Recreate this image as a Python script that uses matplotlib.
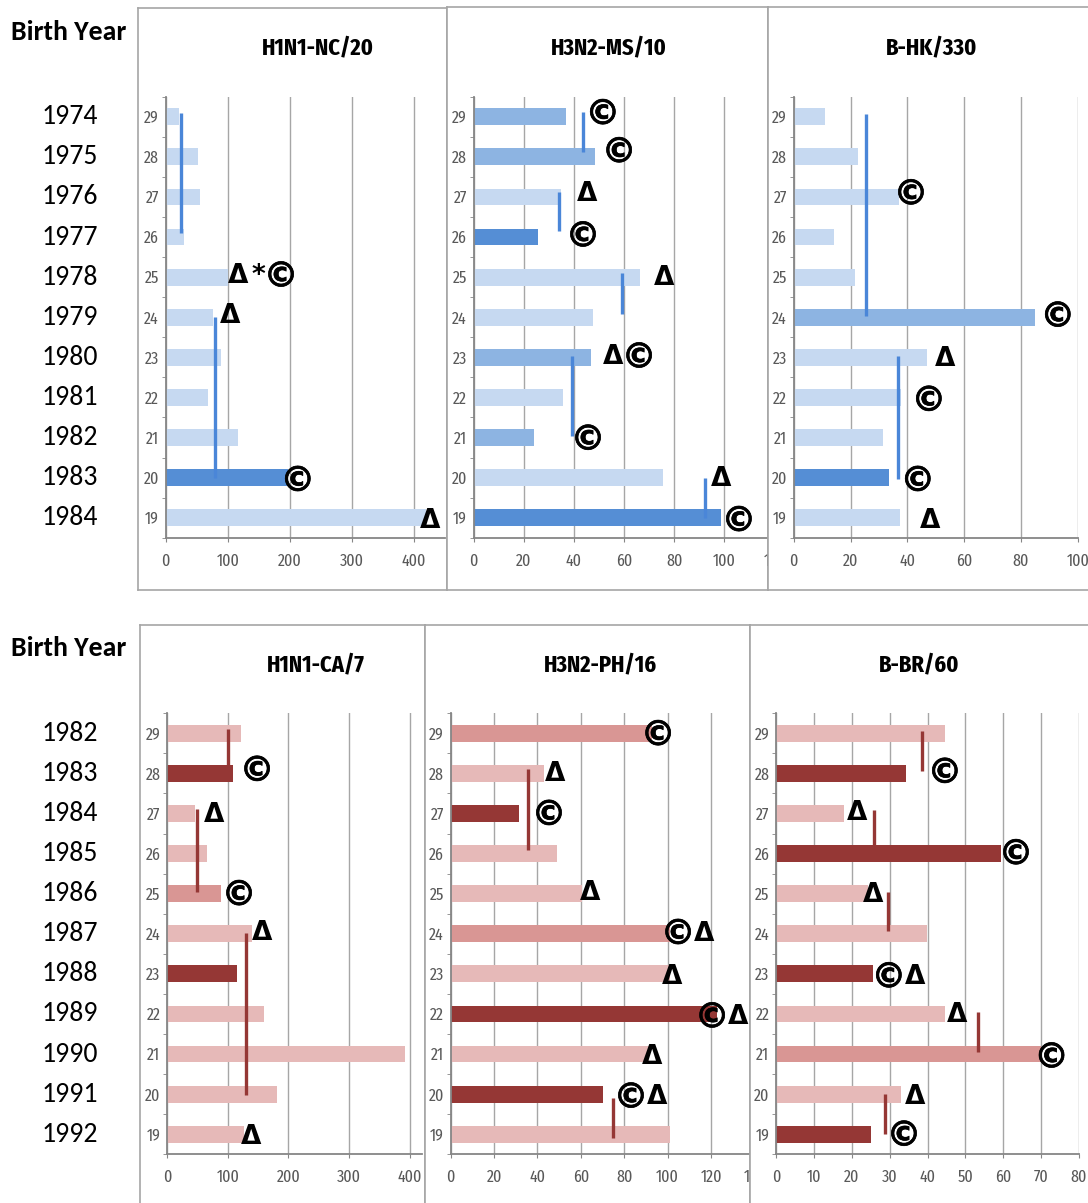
import matplotlib
matplotlib.use('Agg')
import matplotlib.pyplot as plt
import matplotlib.transforms as mtransforms
import matplotlib.patheffects as pe

W, H = 1088, 1203

# age on the y axis (top to bottom) and the matching birth years
ages = [29, 28, 27, 26, 25, 24, 23, 22, 21, 20, 19]
years_top = [1974, 1975, 1976, 1977, 1978, 1979, 1980, 1981, 1982, 1983, 1984]
years_bottom = [1982, 1983, 1984, 1985, 1986, 1987, 1988, 1989, 1990, 1991, 1992]

titles = ['H1N1-NC/20', 'H3N2-MS/10', 'B-HK/330', 'H1N1-CA/7', 'H3N2-PH/16', 'B-BR/60']

# bar values, ages 29 -> 19
nc20_vals = [21, 52, 56, 29, 100, 76, 89, 68, 117, 197, 420]
ms10_vals = [36.7, 48.3, 34.7, 25.8, 66.5, 47.7, 46.9, 35.6, 24.2, 75.5, 98.5]
hk330_vals = [11.0, 22.8, 37.0, 14.3, 21.5, 84.9, 47.1, 37.9, 31.3, 33.7, 37.4]
ca7_vals = [121, 108, 46, 65, 88.6, 140, 115.6, 159, 393, 181.6, 126.6]
ph16_vals = [93, 43.2, 31.6, 48.9, 60.4, 101, 101, 122.6, 91.4, 70.4, 101.1]
br60_vals = [44.5, 34.2, 17.8, 59.5, 24.2, 39.9, 25.5, 44.5, 70, 32.9, 25.1]

# shade of each bar: 0 light, 1 medium, 2 dark
nc20_shade = [0, 0, 0, 0, 0, 0, 0, 0, 0, 2, 0]
ms10_shade = [1, 1, 0, 2, 0, 0, 1, 0, 1, 0, 2]
hk330_shade = [0, 0, 0, 0, 0, 1, 0, 0, 0, 2, 0]
ca7_shade = [0, 2, 0, 0, 1, 0, 2, 0, 0, 0, 0]
ph16_shade = [1, 0, 2, 0, 0, 1, 0, 2, 0, 2, 0]
br60_shade = [0, 2, 0, 2, 0, 0, 2, 0, 1, 0, 2]

# vertical range lines: (x value, top age, bottom age)
nc20_lines = [(25.3, 29.1, 26.1), (80, 24.0, 20.0)]
ms10_lines = [(43.7, 29.11, 28.11), (34, 27.13, 26.16), (59.2, 25.1, 24.07),
              (39.2, 23.04, 21.04), (92.2, 20.0, 18.98)]
hk330_lines = [(25.5, 29.07, 24.04), (36.9, 23.03, 19.96)]
ca7_lines = [(100.7, 29.11, 28.12), (49.5, 27.11, 25.05), (129.3, 24.01, 19.98)]
ph16_lines = [(35.5, 28.12, 26.09), (74.7, 19.9, 18.91)]
br60_lines = [(38.4, 29.07, 28.07), (25.7, 27.08, 26.08), (29.4, 25.05, 24.07),
              (53.4, 22.06, 21.06), (28.6, 20.0, 19.0)]

# marks: (x value, age, text)
nc20_marks = [(100.5, 25.1, 'Δ*©'), (87.6, 24.1, 'Δ'), (192, 20.0, '©'), (410, 19.0, 'Δ')]
ms10_marks = [(46.3, 29.15, '©'), (52.8, 28.2, '©'), (41.2, 27.15, 'Δ'), (38.4, 26.1, '©'),
              (71.9, 25.05, 'Δ'), (51.6, 23.08, 'Δ©'), (40.4, 21.03, '©'),
              (94.7, 20.04, 'Δ'), (100.6, 19.0, '©')]
hk330_marks = [(36.7, 27.15, '©'), (88.4, 24.1, '©'), (49.6, 23.04, 'Δ'), (43.0, 22.0, '©'),
               (39.1, 20.0, '©'), (44.4, 19.0, 'Δ')]
ca7_marks = [(126.6, 28.15, '©'), (60, 27.05, 'Δ'), (96.9, 25.05, '©'), (139.8, 24.1, 'Δ'),
             (121.6, 19.0, 'Δ')]
ph16_marks = [(89.6, 29.04, '©'), (43.5, 28.06, 'Δ'), (39.3, 27.05, '©'), (59.6, 25.1, 'Δ'),
              (98.8, 24.08, '©Δ'), (97.4, 23.0, 'Δ'), (114.5, 22.0, '©Δ'), (88.1, 21.0, 'Δ'),
              (77.1, 20.0, '©Δ')]
br60_marks = [(41.1, 28.1, '©'), (18.7, 27.1, 'Δ'), (59.9, 26.07, '©'), (22.9, 25.05, 'Δ'),
              (26.3, 23.0, '©Δ'), (45.1, 22.05, 'Δ'), (69.3, 21.0, '©'), (34.0, 20.0, 'Δ'),
              (30.3, 19.05, '©')]

blues = ['#c6d9f1', '#8db4e2', '#558ed5']
reds = ['#e6b9b8', '#d99694', '#953735']
blue_line = '#4a86d8'
red_line = '#953735'

cond = ['Fira Sans Extra Condensed', 'DejaVu Sans']
calib = ['Carlito', 'DejaVu Sans']

# glyph size (pt) and ink width (px) of the marker symbols
glyph_size = {'Δ': 19, '©': 25, '*': 19}
glyph_w = {'Δ': 20, '©': 26, '*': 14}
glyph_gap = 3

# layout in pixels: frame box, axes left/right/top/bottom, x max, x step, title centre
panels = [
    dict(title=titles[0], vals=nc20_vals, shade=nc20_shade, lines=nc20_lines, marks=nc20_marks,
         pal=blues, lc=blue_line, frame=(138, 8, 447, 590), ax=(165.7, 444.7, 96.7, 537.7),
         xmax=450, step=100, tx=318, ty=48),
    dict(title=titles[1], vals=ms10_vals, shade=ms10_shade, lines=ms10_lines, marks=ms10_marks,
         pal=blues, lc=blue_line, frame=(447, 7, 768, 590), ax=(473.7, 774.5, 96.7, 537.7),
         xmax=120, step=20, tx=609, ty=48),
    dict(title=titles[2], vals=hk330_vals, shade=hk330_shade, lines=hk330_lines, marks=hk330_marks,
         pal=blues, lc=blue_line, frame=(768, 7, 1095, 590), ax=(793.7, 1077.7, 96.7, 537.7),
         xmax=100, step=20, tx=932, ty=48),
    dict(title=titles[3], vals=ca7_vals, shade=ca7_shade, lines=ca7_lines, marks=ca7_marks,
         pal=reds, lc=red_line, frame=(140, 625, 425, 1210), ax=(167.3, 421.8, 713.3, 1154.3),
         xmax=420, step=100, tx=316, ty=665),
    dict(title=titles[4], vals=ph16_vals, shade=ph16_shade, lines=ph16_lines, marks=ph16_marks,
         pal=reds, lc=red_line, frame=(425, 625, 750, 1210), ax=(450.7, 754.4, 713.3, 1154.3),
         xmax=140, step=20, tx=600, ty=665),
    dict(title=titles[5], vals=br60_vals, shade=br60_shade, lines=br60_lines, marks=br60_marks,
         pal=reds, lc=red_line, frame=(750, 625, 1095, 1210), ax=(776.3, 1079, 713.3, 1154.3),
         xmax=80, step=10, tx=919, ty=665),
]


def rect(x0, y0, x1, y1):
    return [x0 / W, 1 - y1 / H, (x1 - x0) / W, (y1 - y0) / H]


fig = plt.figure(figsize=(W / 100, H / 100), dpi=100)
fig.patch.set_facecolor('white')

for i, p in enumerate(panels):
    # frame of the panel (white box, drawn over the previous panel)
    bg = fig.add_axes(rect(*p['frame']))
    bg.set_xticks([])
    bg.set_yticks([])
    bg.set_facecolor('white')
    for s in bg.spines.values():
        s.set_color('#a6a6a6')
        s.set_linewidth(1.2)

    x0, x1, y0, y1 = p['ax']
    ax = fig.add_axes(rect(x0, y0, x1, y1))
    ax.set_facecolor('none')
    cols = [p['pal'][k] for k in p['shade']]
    ax.barh(ages, p['vals'], height=0.42, color=cols, zorder=2)
    for lx, ya, yb in p['lines']:
        ax.plot([lx, lx], [ya, yb], color=p['lc'], lw=2.4, solid_capstyle='butt', zorder=3)

    # marker symbols, one glyph at a time so the circled C can be larger
    for mx, my, s in p['marks']:
        dx = 0
        for ch in s:
            tr = mtransforms.offset_copy(ax.transData, fig=fig, x=dx + glyph_w[ch] / 2, y=0,
                                         units='dots')
            t = ax.text(mx, my, ch, transform=tr, fontsize=glyph_size[ch], fontweight='bold',
                        family='DejaVu Sans', ha='center', va='center_baseline', color='black',
                        zorder=5, clip_on=False)
            if ch == '©':
                t.set_path_effects([pe.withStroke(linewidth=0.5, foreground='black')])
            dx += glyph_w[ch] + glyph_gap

    ax.set_xlim(0, p['xmax'])
    ax.set_ylim(18.5, 29.5)
    ax.set_xticks(range(0, p['xmax'] + 1, p['step']))
    ax.set_yticks(ages)
    ax.set_yticks([a + 0.5 for a in range(18, 30)], minor=True)
    ax.grid(axis='x', color='#a6a6a6', lw=1.0, zorder=0)
    ax.set_axisbelow(True)
    for s in ['top', 'right']:
        ax.spines[s].set_visible(False)
    for s in ['left', 'bottom']:
        ax.spines[s].set_color('#868686')
        ax.spines[s].set_linewidth(1.3)
    ax.tick_params(axis='x', length=3, color='#868686', pad=8, labelsize=12.5, labelcolor='#595959')
    ax.tick_params(axis='y', which='major', length=0, pad=5, labelsize=12.5, labelcolor='#595959')
    ax.tick_params(axis='y', which='minor', length=3, color='#868686')
    for lab in ax.get_xticklabels() + ax.get_yticklabels():
        lab.set_family(cond)

    fig.text(p['tx'] / W, 1 - p['ty'] / H, p['title'], fontsize=17.5, fontweight='bold',
             family=cond, ha='center', va='center')

    # birth year column for each row of panels
    if i in (0, 3):
        yrs = years_top if i == 0 else years_bottom
        tr = mtransforms.blended_transform_factory(fig.transFigure, ax.transData)
        for a, yv in zip(ages, yrs):
            fig.text(70 / W, a, str(yv), transform=tr, fontsize=20, family=calib,
                     ha='center', va='center')
        by = 32 if i == 0 else 648
        fig.text(11 / W, 1 - by / H, 'Birth Year', fontsize=20, fontweight='bold',
                 family=calib, ha='left', va='center')

fig.savefig('out.png', dpi=100, facecolor='white')
